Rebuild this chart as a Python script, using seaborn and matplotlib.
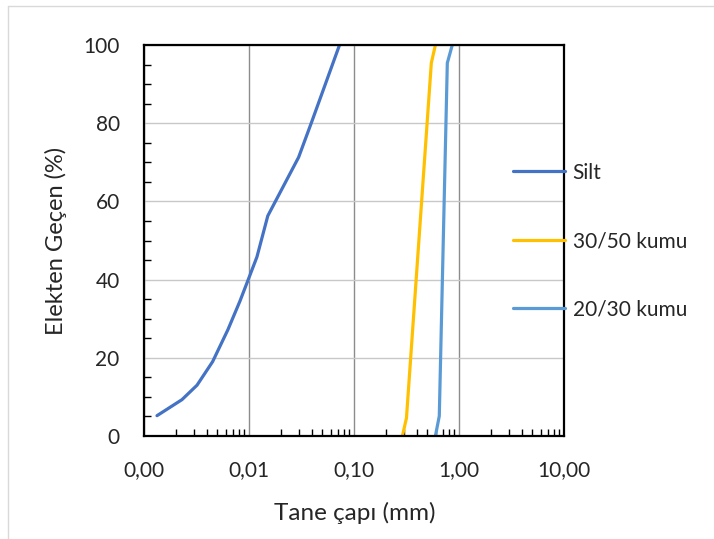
"""
Grain size distribution (Silt, 30/50 and 20/30 sand) recreated with seaborn.
"""

import numpy as np
import pandas as pd
import matplotlib
matplotlib.use("Agg")
import matplotlib.pyplot as plt
import matplotlib.ticker as mticker
import seaborn as sns

# ---------------------------------------------------------------------------
# Data
# ---------------------------------------------------------------------------
silt_d = [0.00133, 0.0023, 0.0032, 0.0045, 0.0063, 0.0082, 0.0100, 0.0119,
          0.0151, 0.0297, 0.0395, 0.0728]
silt_p = [5.2, 9.3, 13.0, 19.0, 27.2, 34.5, 40.5, 45.8, 56.3, 71.3, 80.3, 100.0]

s3050_d = [0.289, 0.316, 0.545, 0.596]
s3050_p = [0.0, 4.6, 95.4, 100.0]

s2030_d = [0.596, 0.649, 0.774, 0.863]
s2030_p = [0.0, 5.1, 95.4, 100.0]

series_names = ["Silt", "30/50 kumu", "20/30 kumu"]
colors = ["#4472C4", "#FFC000", "#5B9BD5"]

x_ticks = [0.001, 0.01, 0.1, 1, 10]
y_ticks = [0, 20, 40, 60, 80, 100]

# long-form table for seaborn
df = pd.concat([
    pd.DataFrame({"d": silt_d, "p": silt_p, "seri": series_names[0]}),
    pd.DataFrame({"d": s3050_d, "p": s3050_p, "seri": series_names[1]}),
    pd.DataFrame({"d": s2030_d, "p": s2030_p, "seri": series_names[2]}),
], ignore_index=True)

# ---------------------------------------------------------------------------
# Figure
# ---------------------------------------------------------------------------
sns.set_style("white")
plt.rcParams["font.family"] = ["Lato", "DejaVu Sans"]

fig = plt.figure(figsize=(7.14, 5.39), dpi=100)
ax = fig.add_axes([144 / 714, 1 - 436 / 539, (564 - 144) / 714, (436 - 45) / 539])

sns.lineplot(data=df, x="d", y="p", hue="seri", palette=colors,
             hue_order=series_names, sort=False, estimator=None,
             linewidth=2.3, ax=ax)

ax.set_xscale("log")
ax.set_xlim(0.001, 10)
ax.set_ylim(0, 100)
ax.set_xticks(x_ticks)
ax.xaxis.set_major_formatter(
    mticker.FuncFormatter(lambda v, _: f"{v:.2f}".replace(".", ",")))
ax.xaxis.set_minor_locator(mticker.LogLocator(base=10, subs=np.arange(2, 10)))
ax.xaxis.set_minor_formatter(mticker.NullFormatter())
ax.set_yticks(y_ticks)
ax.yaxis.set_minor_locator(mticker.MultipleLocator(5))

# grid: darker vertical at decades, light horizontal every 20
ax.grid(axis="x", which="major", color="#8c8c8c", linewidth=1.0)
ax.grid(axis="y", which="major", color="#c8c8c8", linewidth=1.0)
ax.set_axisbelow(True)

for s in ax.spines.values():
    s.set_color("black")
    s.set_linewidth(1.6)

ax.tick_params(which="major", direction="out", length=5.5, width=1.2,
               color="black", labelsize=15, pad=12, labelcolor="#262626")
ax.tick_params(which="minor", direction="in", length=5, width=1.0,
               color="black")
ax.tick_params(axis="y", which="minor", left=True)
ax.tick_params(axis="x", which="minor", bottom=True)

ax.set_xlabel("Tane çapı (mm)", fontsize=17.5, color="#262626")
ax.set_ylabel("Elekten Geçen (%)", fontsize=17, color="#262626")
ax.xaxis.set_label_coords(0.502, -0.169)
ax.yaxis.set_label_coords(-0.183, 0.5)

ax.legend(loc="upper left", bbox_to_anchor=(0.879, 0.699), frameon=False,
          fontsize=15, handlelength=2.5, handletextpad=0.35,
          labelspacing=2.32, borderaxespad=0, borderpad=0, title=None)

# thin outer chart border (Excel style), visible on left and top
fig.add_artist(plt.Line2D([8 / 714, 8 / 714], [0, 1 - 6 / 539],
                          transform=fig.transFigure, color="#d9d9d9", lw=1))
fig.add_artist(plt.Line2D([8 / 714, 1], [1 - 6 / 539, 1 - 6 / 539],
                          transform=fig.transFigure, color="#d9d9d9", lw=1))

fig.savefig("out.png", dpi=100)
plt.close(fig)
